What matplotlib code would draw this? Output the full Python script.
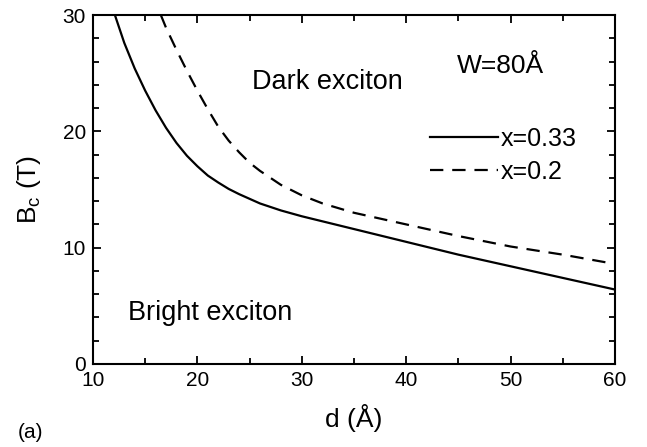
import matplotlib
matplotlib.use("Agg")
import matplotlib.pyplot as plt
from matplotlib.ticker import MultipleLocator

plt.rcParams['font.family'] = ['Liberation Sans', 'DejaVu Sans']
plt.rcParams['mathtext.default'] = 'regular'

# Datos
d_033 = [12.1, 13, 14, 15, 16, 17, 18, 19, 20, 21, 22, 23, 24, 26, 28, 30, 35, 40, 45, 50, 55, 60]
B_033 = [30.0, 27.6, 25.4, 23.5, 21.8, 20.3, 19.0, 17.9, 17.0, 16.2, 15.6, 15.05, 14.6, 13.8,
         13.2, 12.7, 11.6, 10.5, 9.4, 8.4, 7.4, 6.4]

d_02 = [16.5, 17, 18, 19, 20, 21, 22, 23, 24, 25, 26, 28, 30, 32, 35, 40, 45, 50, 55, 60]
B_02 = [30.0, 28.9, 27.0, 25.2, 23.5, 21.9, 20.4, 19.2, 18.2, 17.3, 16.6, 15.4, 14.5, 13.8,
        13.0, 12.0, 11.0, 10.1, 9.4, 8.6]

labels = ["x=0.33", "x=0.2"]

fig = plt.figure(figsize=(6.47, 4.47), dpi=100)
ax = fig.add_axes([0.1437, 0.1857, 0.8068, 0.7807])

ax.plot(d_033, B_033, color='black', lw=1.6, ls='-', label=labels[0])
ax.plot(d_02, B_02, color='black', lw=1.6, ls=(0, (6, 4)), label=labels[1])

ax.set_xlim(10, 60)
ax.set_ylim(0, 30)
ax.xaxis.set_major_locator(MultipleLocator(10))
ax.xaxis.set_minor_locator(MultipleLocator(5))
ax.yaxis.set_major_locator(MultipleLocator(10))
ax.yaxis.set_minor_locator(MultipleLocator(2))
ax.tick_params(which='both', direction='in', top=True, right=True, width=1.3)
ax.tick_params(which='major', length=6, labelsize=15, pad=5)
ax.tick_params(which='minor', length=4)
for s in ax.spines.values():
    s.set_linewidth(1.5)

ax.set_xlabel("d (Å)", fontsize=19, labelpad=10)
ax.set_ylabel("$B_c$ (T)", fontsize=19, labelpad=14)

ax.text(0.450, 0.788, "Dark exciton", transform=ax.transAxes, fontsize=19.5,
        ha='center', va='baseline')
ax.text(0.697, 0.834, "W=80Å", transform=ax.transAxes, fontsize=19,
        ha='left', va='baseline')
ax.text(0.067, 0.126, "Bright exciton", transform=ax.transAxes, fontsize=19.5,
        ha='left', va='baseline')

leg = ax.legend(loc='upper left', bbox_to_anchor=(0.645, 0.68), frameon=False,
                fontsize=18, handlelength=2.75, handletextpad=0.1, labelspacing=0.38,
                borderaxespad=0, borderpad=0)

fig.text(0.028, 0.02, "(a)", fontsize=15)

fig.savefig("out.png", dpi=100)
